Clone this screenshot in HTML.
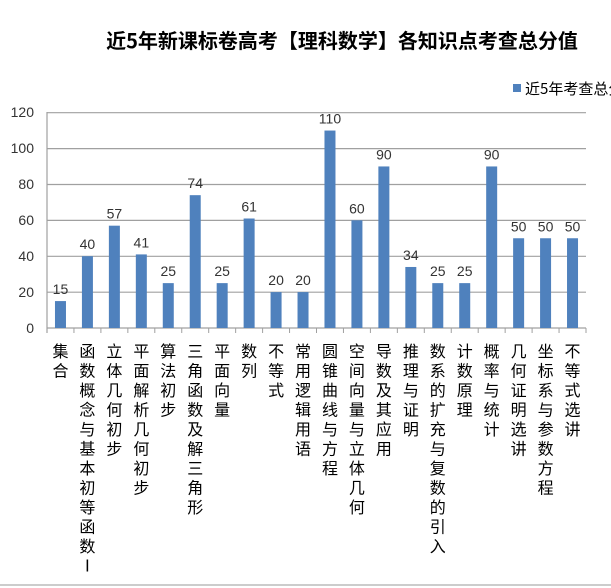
<!DOCTYPE html>
<html><head><meta charset="utf-8"><style>
body{margin:0;background:#fff;}
#c{position:relative;width:611px;height:588px;overflow:hidden;font-family:"Liberation Sans","Noto Sans CJK SC",sans-serif;}
.lab{position:absolute;top:343px;writing-mode:vertical-rl;font-size:16px;line-height:16px;letter-spacing:3.5px;color:#000;font-family:"Noto Sans CJK SC","WenQuanYi Zen Hei",sans-serif;}
</style></head><body><div id="c">
<svg width="611" height="588" style="position:absolute;left:0;top:0" font-family="Liberation Sans, Noto Sans CJK SC, sans-serif">
<text x="342" y="48" text-anchor="middle" font-size="20" font-weight="bold" font-family="Noto Sans CJK SC, sans-serif">近5年新课标卷高考【理科数学】各知识点考查总分值</text>
<rect x="513" y="84" width="8" height="8" fill="#4f81bd"/>
<text x="525" y="94" font-size="15" font-family="Noto Sans CJK SC, sans-serif">近5年考查总分值</text>
<g stroke="#a0a0a0" stroke-width="1.2">
<line x1="47" y1="112.7" x2="586" y2="112.7"/>
<line x1="47" y1="148.6" x2="586" y2="148.6"/>
<line x1="47" y1="184.5" x2="586" y2="184.5"/>
<line x1="47" y1="220.4" x2="586" y2="220.4"/>
<line x1="47" y1="256.3" x2="586" y2="256.3"/>
<line x1="47" y1="292.2" x2="586" y2="292.2"/>
<line x1="47" y1="328" x2="586" y2="328"/>
<line x1="47" y1="112" x2="47" y2="333"/>
</g>
<g font-size="14" fill="#333" text-anchor="end">
<text x="34" y="117">120</text><text x="34" y="153">100</text><text x="34" y="189">80</text><text x="34" y="225">60</text><text x="34" y="261">40</text><text x="34" y="297">20</text><text x="34" y="333">0</text>
</g>
<g id="bars"></g>
<line x1="0" y1="585" x2="611" y2="585" stroke="#999"/>
</svg>
<script>
var v=[15,40,57,41,25,74,25,61,20,20,110,60,90,34,25,25,90,50,50,50];
var N=20,w=539/N,ns="http://www.w3.org/2000/svg";
var g=document.getElementById('bars');
for(var i=0;i<N;i++){
 var cx=47+w*(i+0.5),y=328-v[i]*1.795;
 var r=document.createElementNS(ns,'rect');r.setAttribute('x',cx-5.5);r.setAttribute('y',y);r.setAttribute('width',11);r.setAttribute('height',328-y);r.setAttribute('fill','#4f81bd');g.appendChild(r);
 var t=document.createElementNS(ns,'text');t.setAttribute('x',cx);t.setAttribute('y',y-7);t.setAttribute('text-anchor','middle');t.setAttribute('font-size','14');t.setAttribute('fill','#333');t.textContent=v[i];g.appendChild(t);
 var l=document.createElementNS(ns,'line');var tx=47+w*(i+1);l.setAttribute('x1',tx);l.setAttribute('x2',tx);l.setAttribute('y1',328);l.setAttribute('y2',333);l.setAttribute('stroke','#a0a0a0');g.appendChild(l);
}
var nm=["集合","函数概念与基本初等函数Ⅰ","立体几何初步","平面解析几何初步","算法初步","三角函数及解三角形","平面向量","数列","不等式","常用逻辑用语","圆锥曲线与方程","空间向量与立体几何","导数及其应用","推理与证明","数系的扩充与复数的引入","计数原理","概率与统计","几何证明选讲","坐标系与参数方程","不等式选讲"];
var c=document.getElementById('c');
for(var i=0;i<N;i++){var d=document.createElement('div');d.className='lab';d.style.left=(47+w*(i+0.5)-8)+'px';d.textContent=nm[i];c.appendChild(d);}
</script>
</div></body></html>
